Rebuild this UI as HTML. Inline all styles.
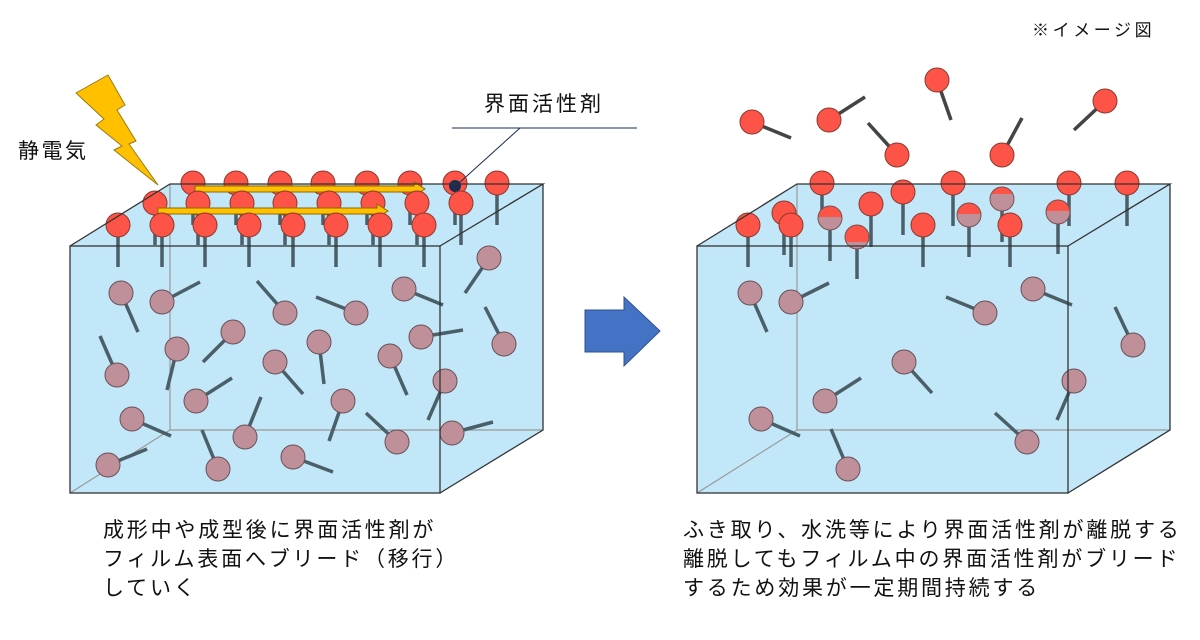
<!DOCTYPE html>
<html><head><meta charset="utf-8"><style>
html,body{margin:0;padding:0;background:#fff;}
svg{display:block;}
text{font-family:"Liberation Sans","Noto Sans CJK JP",sans-serif;fill:#111;}
</style></head><body>
<svg width="1200" height="640" viewBox="0 0 1200 640" xmlns="http://www.w3.org/2000/svg">
<!-- LEFT BOX fill -->
<polygon points="70,246 170,184 543,184 543,430 440,493 70,493" fill="#c2e7f8"/>
<g stroke="#999" stroke-width="1.2" fill="none">
<line x1="170" y1="184" x2="170" y2="430"/><line x1="170" y1="430" x2="543" y2="430"/><line x1="170" y1="430" x2="70" y2="493"/>
</g>
<!-- RIGHT BOX fill -->
<polygon points="697,246 797,184 1170,184 1170,430 1068,493 697,493" fill="#c2e7f8"/>
<g stroke="#999" stroke-width="1.2" fill="none">
<line x1="797" y1="184" x2="797" y2="430"/><line x1="797" y1="430" x2="1170" y2="430"/><line x1="797" y1="430" x2="697" y2="493"/>
</g>

<!-- interior molecules left -->
<g stroke="#4a5f68" stroke-width="3.5">
<line x1="121" y1="293" x2="138" y2="332"/><line x1="162" y1="302" x2="200" y2="282"/><line x1="285" y1="313" x2="257" y2="281"/><line x1="356" y1="313" x2="316" y2="297"/><line x1="404" y1="289" x2="443" y2="305"/><line x1="489" y1="258" x2="465" y2="293"/><line x1="117" y1="375" x2="100" y2="336"/><line x1="177" y1="349" x2="167" y2="390"/><line x1="233" y1="332" x2="203" y2="362"/><line x1="319" y1="342" x2="324" y2="384"/><line x1="275" y1="362" x2="303" y2="394"/><line x1="390" y1="356" x2="407" y2="395"/><line x1="421" y1="337" x2="463" y2="330"/><line x1="504" y1="344" x2="485" y2="307"/><line x1="196" y1="401" x2="232" y2="378"/><line x1="132" y1="419" x2="171" y2="436"/><line x1="245" y1="437" x2="261" y2="397"/><line x1="343" y1="401" x2="329" y2="441"/><line x1="445" y1="381" x2="428" y2="420"/><line x1="397" y1="442" x2="366" y2="413"/><line x1="452" y1="433" x2="493" y2="422"/><line x1="293" y1="457" x2="333" y2="472"/><line x1="218" y1="469" x2="202" y2="430"/><line x1="108" y1="465" x2="147" y2="449"/>
</g>
<g fill="#c0909a" stroke="#6a5058" stroke-width="1">
<circle cx="121" cy="293" r="12"/><circle cx="162" cy="302" r="12"/><circle cx="285" cy="313" r="12"/><circle cx="356" cy="313" r="12"/><circle cx="404" cy="289" r="12"/><circle cx="489" cy="258" r="12"/><circle cx="117" cy="375" r="12"/><circle cx="177" cy="349" r="12"/><circle cx="233" cy="332" r="12"/><circle cx="319" cy="342" r="12"/><circle cx="275" cy="362" r="12"/><circle cx="390" cy="356" r="12"/><circle cx="421" cy="337" r="12"/><circle cx="504" cy="344" r="12"/><circle cx="196" cy="401" r="12"/><circle cx="132" cy="419" r="12"/><circle cx="245" cy="437" r="12"/><circle cx="343" cy="401" r="12"/><circle cx="445" cy="381" r="12"/><circle cx="397" cy="442" r="12"/><circle cx="452" cy="433" r="12"/><circle cx="293" cy="457" r="12"/><circle cx="218" cy="469" r="12"/><circle cx="108" cy="465" r="12"/>
</g>

<!-- interior molecules right -->
<g stroke="#4a5f68" stroke-width="3.5">
<line x1="750" y1="293" x2="767" y2="332"/><line x1="791" y1="302" x2="829" y2="283"/><line x1="985" y1="313" x2="946" y2="297"/><line x1="1033" y1="289" x2="1072" y2="305"/><line x1="1133" y1="345" x2="1115" y2="307"/><line x1="904" y1="362" x2="932" y2="393"/><line x1="825" y1="401" x2="861" y2="378"/><line x1="761" y1="419" x2="800" y2="436"/><line x1="1074" y1="381" x2="1057" y2="420"/><line x1="1027" y1="442" x2="995" y2="413"/><line x1="848" y1="469" x2="831" y2="429"/>
</g>
<g fill="#c0909a" stroke="#6a5058" stroke-width="1">
<circle cx="750" cy="293" r="12"/><circle cx="791" cy="302" r="12"/><circle cx="985" cy="313" r="12"/><circle cx="1033" cy="289" r="12"/><circle cx="1133" cy="345" r="12"/><circle cx="904" cy="362" r="12"/><circle cx="825" cy="401" r="12"/><circle cx="761" cy="419" r="12"/><circle cx="1074" cy="381" r="12"/><circle cx="1027" cy="442" r="12"/><circle cx="848" cy="469" r="12"/>
</g>

<!-- LEFT surface molecules: back row -->
<g stroke="#4a5f68" stroke-width="3.5">
<line x1="193" y1="183" x2="193" y2="225"/><line x1="236" y1="183" x2="236" y2="225"/><line x1="280" y1="183" x2="280" y2="225"/><line x1="323" y1="183" x2="323" y2="225"/><line x1="367" y1="183" x2="367" y2="225"/><line x1="410" y1="183" x2="410" y2="225"/><line x1="455" y1="183" x2="455" y2="225"/><line x1="497" y1="183" x2="497" y2="225"/>
</g>
<g fill="#fe5347" stroke="#8a3a30" stroke-width="1">
<circle cx="193" cy="183" r="12"/><circle cx="236" cy="183" r="12"/><circle cx="280" cy="183" r="12"/><circle cx="323" cy="183" r="12"/><circle cx="367" cy="183" r="12"/><circle cx="410" cy="183" r="12"/><circle cx="455" cy="183" r="12"/><circle cx="497" cy="183" r="12"/>
</g>
<circle cx="455" cy="186" r="6" fill="#1a2d50"/>
<polygon points="195,186 414,186 414,182 425,189 414,196 414,192 195,192" fill="#ffc000" stroke="#8a6a00" stroke-width="1"/>
<!-- middle row -->
<g stroke="#4a5f68" stroke-width="3.5">
<line x1="155" y1="203" x2="155" y2="245"/><line x1="198" y1="203" x2="198" y2="245"/><line x1="242" y1="203" x2="242" y2="245"/><line x1="285" y1="203" x2="285" y2="245"/><line x1="329" y1="203" x2="329" y2="245"/><line x1="373" y1="203" x2="373" y2="245"/><line x1="417" y1="203" x2="417" y2="245"/><line x1="461" y1="203" x2="461" y2="245"/>
</g>
<g fill="#fe5347" stroke="#8a3a30" stroke-width="1">
<circle cx="155" cy="203" r="12"/><circle cx="198" cy="203" r="12"/><circle cx="242" cy="203" r="12"/><circle cx="285" cy="203" r="12"/><circle cx="329" cy="203" r="12"/><circle cx="373" cy="203" r="12"/><circle cx="417" cy="203" r="12"/><circle cx="461" cy="203" r="12"/>
</g>
<polygon points="158,208 377,208 377,204 388,211 377,218 377,214 158,214" fill="#ffc000" stroke="#8a6a00" stroke-width="1"/>
<!-- front row -->
<g stroke="#4a5f68" stroke-width="3.5">
<line x1="118" y1="225" x2="118" y2="267"/><line x1="162" y1="225" x2="162" y2="267"/><line x1="205" y1="225" x2="205" y2="267"/><line x1="249" y1="225" x2="249" y2="267"/><line x1="293" y1="225" x2="293" y2="267"/><line x1="336" y1="225" x2="336" y2="267"/><line x1="380" y1="225" x2="380" y2="267"/><line x1="424" y1="225" x2="424" y2="267"/>
</g>
<g fill="#fe5347" stroke="#8a3a30" stroke-width="1">
<circle cx="118" cy="225" r="12"/><circle cx="162" cy="225" r="12"/><circle cx="205" cy="225" r="12"/><circle cx="249" cy="225" r="12"/><circle cx="293" cy="225" r="12"/><circle cx="336" cy="225" r="12"/><circle cx="380" cy="225" r="12"/><circle cx="424" cy="225" r="12"/>
</g>

<!-- RIGHT surface molecules -->
<g stroke="#4a5f68" stroke-width="3.5">
<line x1="822" y1="183" x2="822" y2="226"/><line x1="953" y1="183" x2="953" y2="226"/><line x1="1069" y1="183" x2="1069" y2="226"/><line x1="1127" y1="183" x2="1127" y2="226"/>
<line x1="784" y1="213" x2="784" y2="255"/><line x1="1002" y1="199" x2="1002" y2="242"/><line x1="903" y1="192" x2="903" y2="235"/><line x1="871" y1="204" x2="871" y2="247"/>
<line x1="1058" y1="212" x2="1058" y2="254"/><line x1="969" y1="215" x2="969" y2="257"/><line x1="830" y1="218" x2="830" y2="261"/>
<line x1="791" y1="225" x2="791" y2="267"/><line x1="748" y1="225" x2="748" y2="267"/><line x1="923" y1="225" x2="923" y2="267"/><line x1="1010" y1="225" x2="1010" y2="267"/><line x1="857" y1="237" x2="857" y2="279"/>
</g>
<g stroke="#8a3a30" stroke-width="1">
<circle cx="822" cy="183" r="12" fill="#fe5347"/><circle cx="953" cy="183" r="12" fill="#fe5347"/><circle cx="1069" cy="183" r="12" fill="#fe5347"/><circle cx="1127" cy="183" r="12" fill="#fe5347"/>
<circle cx="903" cy="192" r="12" fill="#fe5347"/>
<circle cx="784" cy="213" r="12" fill="#fe5347"/>
<circle cx="871" cy="204" r="12" fill="#fe5347"/>
</g>
<defs>
<linearGradient id="half" x1="0" y1="0" x2="0" y2="1"><stop offset="0.45" stop-color="#fe5347"/><stop offset="0.45" stop-color="#c0909a"/></linearGradient>
<linearGradient id="half2" x1="0" y1="0" x2="0" y2="1"><stop offset="0.3" stop-color="#fe5347"/><stop offset="0.3" stop-color="#c0909a"/></linearGradient>
<linearGradient id="half3" x1="0" y1="0" x2="0" y2="1"><stop offset="0.7" stop-color="#fe5347"/><stop offset="0.7" stop-color="#c0909a"/></linearGradient>
</defs>
<g stroke="#7a5050" stroke-width="1">
<circle cx="1002" cy="199" r="12" fill="url(#half2)"/>
<circle cx="1058" cy="212" r="12" fill="url(#half)"/>
<circle cx="969" cy="215" r="12" fill="url(#half)"/>
<circle cx="830" cy="218" r="12" fill="url(#half)"/>
<circle cx="857" cy="237" r="12" fill="url(#half3)"/>
</g>
<g fill="#fe5347" stroke="#8a3a30" stroke-width="1">
<circle cx="791" cy="225" r="12"/><circle cx="748" cy="225" r="12"/><circle cx="923" cy="225" r="12"/><circle cx="1010" cy="225" r="12"/>
</g>

<!-- floating molecules -->
<g stroke="#444" stroke-width="3.5">
<line x1="752" y1="122" x2="791" y2="138"/><line x1="829" y1="120" x2="865" y2="97"/><line x1="937" y1="80" x2="951" y2="120"/><line x1="897" y1="155" x2="868" y2="123"/><line x1="1002" y1="155" x2="1022" y2="118"/><line x1="1105" y1="101" x2="1074" y2="130"/>
</g>
<g fill="#fe5347" stroke="#8a3a30" stroke-width="1">
<circle cx="752" cy="122" r="12"/><circle cx="829" cy="120" r="12"/><circle cx="937" cy="80" r="12"/><circle cx="897" cy="155" r="12"/><circle cx="1002" cy="155" r="12"/><circle cx="1105" cy="101" r="12"/>
</g>

<!-- box edges -->
<g stroke="#333" stroke-width="1.3" fill="none">
<rect x="70" y="246" width="370" height="247"/>
<polyline points="70,246 170,184 543,184 440,246"/>
<polyline points="543,184 543,430 440,493"/>
<rect x="697" y="246" width="371" height="247"/>
<polyline points="697,246 797,184 1170,184 1068,246"/>
<polyline points="1170,184 1170,430 1068,493"/>
</g>

<!-- lightning -->
<polygon points="76,93 108,75 125,105 117,110 136,141 129,144 158,185 114,150 122,146 96,125 104,119" fill="#ffc000" stroke="#9a7a10" stroke-width="1"/>
<text x="18" y="158" font-size="21" letter-spacing="2.5">静電気</text>

<text x="484" y="111" font-size="21" letter-spacing="3">界面活性剤</text>
<line x1="452" y1="128" x2="637" y2="128" stroke="#1a2d50" stroke-width="1"/>
<line x1="520" y1="128" x2="458" y2="184" stroke="#1a2d50" stroke-width="1"/>

<polygon points="585,310 624,310 624,297 660,331 624,366 624,352 585,352" fill="#4472c4" stroke="#2f528f" stroke-width="1"/>

<text x="1032" y="36" font-size="17" letter-spacing="3.6">※イメージ図</text>

<g font-size="21" letter-spacing="2.8">
<text x="103" y="537">成形中や成型後に界面活性剤が</text>
<text x="103" y="566">フィルム表面へブリード（移行）</text>
<text x="103" y="595">していく</text>
<text x="683" y="537">ふき取り、水洗等により界面活性剤が離脱する</text>
<text x="683" y="566">離脱してもフィルム中の界面活性剤がブリード</text>
<text x="683" y="595">するため効果が一定期間持続する</text>
</g>
</svg>
</body></html>
